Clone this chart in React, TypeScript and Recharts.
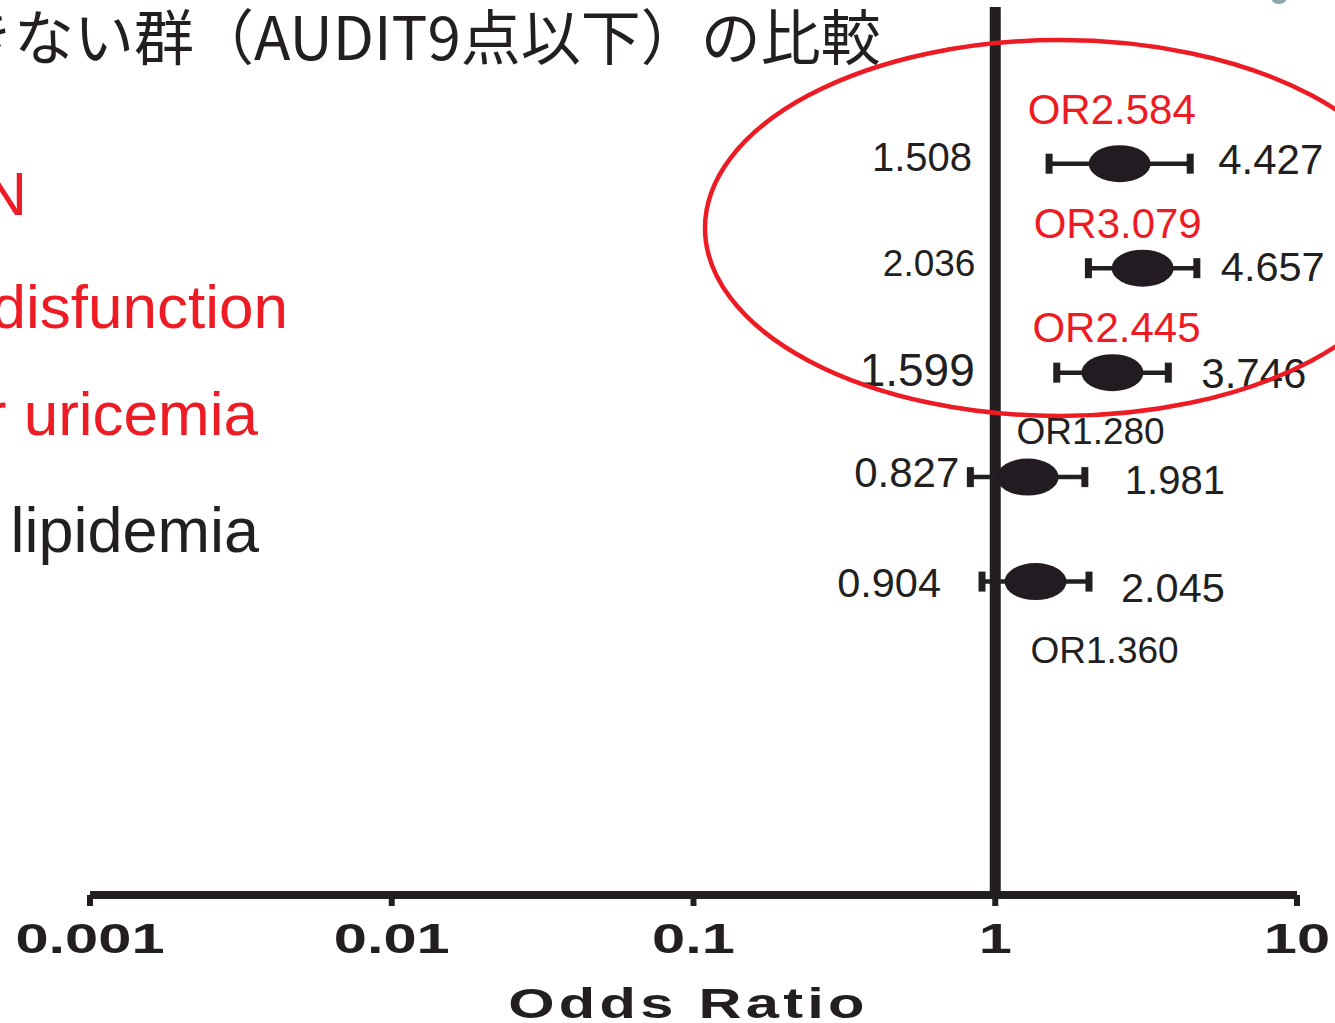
import React from 'react';
import { ScatterChart, Scatter, XAxis, YAxis, ReferenceLine, ErrorBar } from 'recharts';

// ---- data ----
const rowPositions = [5, 4, 3, 2, 1];
const oddsRatios = [2.584, 3.079, 2.445, 1.28, 1.36];
const lowerCI = [1.508, 2.036, 1.599, 0.827, 0.904];
const upperCI = [4.427, 4.657, 3.746, 1.981, 2.045];
const xTicks = [0.001, 0.01, 0.1, 1, 10];
const sideLabels = ['HTN', 'Liver disfunction', 'Hyper uricemia', 'Hyper lipidemia'];
const sideLabelHighlighted = [true, true, true, false];
const titleText = 'できない群（AUDIT9点以下）の比較';
const axisTitle = 'Odds Ratio';

// ---- styling ----
const INK = '#231f20';
const RED = '#ed1c24';
const NUM_FONT = '"Liberation Sans", Arial, Helvetica, sans-serif';

const OR_LABEL = [
  { dx: -92, dy: -40, size: 42, color: RED },
  { dx: -109, dy: -30, size: 42, color: RED },
  { dx: -80, dy: -31, size: 42, color: RED },
  { dx: -11, dy: -33, size: 37, color: INK },
  { dx: -5, dy: 81, size: 37, color: INK },
];
const LO_LABEL = [
  { gap: 77, dy: 7, size: 40 },
  { gap: 113, dy: 8, size: 37 },
  { gap: 82, dy: 13, size: 46 },
  { gap: 11, dy: 10, size: 42 },
  { gap: 41, dy: 15, size: 41.5 },
];
const HI_LABEL = [
  { gap: 28, dy: 10, size: 42 },
  { gap: 24, dy: 13, size: 41.5 },
  { gap: 33, dy: 15, size: 42 },
  { gap: 40, dy: 17, size: 40 },
  { gap: 32, dy: 20, size: 41.5 },
];
const SIDE_LABEL_POS = [
  { x: 27, y: 215, size: 62 },
  { x: 288, y: 328, size: 62 },
  { x: 258, y: 435, size: 62 },
  { x: 259, y: 552, size: 63 },
];

const rows = oddsRatios.map((or, i) => ({
  i,
  x: or,
  y: rowPositions[i],
  err: [or - lowerCI[i], upperCI[i] - or],
}));
const lowerPts = lowerCI.map((v, i) => ({ i, x: v, y: rowPositions[i] }));
const upperPts = upperCI.map((v, i) => ({ i, x: v, y: rowPositions[i] }));

const fmt = (v: number) => v.toFixed(3);

const OddsMark = (p: any) => {
  const { cx, cy, payload } = p;
  const s = OR_LABEL[payload.i];
  return (
    <g>
      <ellipse cx={cx} cy={cy} rx={31} ry={18.5} fill={INK} filter="url(#soften)" />
      <text x={cx + s.dx} y={cy + s.dy} fontSize={s.size} fill={s.color} fontFamily={NUM_FONT}>
        {`OR${fmt(payload.x)}`}
      </text>
    </g>
  );
};

const LowerCap = (p: any) => {
  const { cx, cy, payload } = p;
  const s = LO_LABEL[payload.i];
  return (
    <g>
      <rect x={cx - 3.5} y={cy - 10} width={7} height={20} fill={INK} />
      <text x={cx - s.gap} y={cy + s.dy} fontSize={s.size} fill={INK} textAnchor="end" fontFamily={NUM_FONT}>
        {fmt(payload.x)}
      </text>
    </g>
  );
};

const UpperCap = (p: any) => {
  const { cx, cy, payload } = p;
  const s = HI_LABEL[payload.i];
  return (
    <g>
      <rect x={cx - 3.5} y={cy - 10} width={7} height={20} fill={INK} />
      <text x={cx + s.gap} y={cy + s.dy} fontSize={s.size} fill={INK} fontFamily={NUM_FONT}>
        {fmt(payload.x)}
      </text>
    </g>
  );
};

const OddsTick = (p: any) => {
  const { x, y, payload } = p;
  return (
    <text
      transform={`translate(${x} ${y + 45}) scale(1.42 1)`}
      textAnchor="middle"
      fontFamily={NUM_FONT}
      fontWeight="bold"
      fontSize={42}
      fill={INK}
    >
      {String(payload.value)}
    </text>
  );
};

const AxisTitle = (p: any) => {
  const vb = p.viewBox || { x: 90, y: 895, width: 1207 };
  const cx = vb.x + vb.width / 2 - 5;
  return (
    <text
      transform={`translate(${cx} ${vb.y + 123}) scale(1.42 1)`}
      textAnchor="middle"
      fontFamily={NUM_FONT}
      fontWeight="bold"
      fontSize={42}
      letterSpacing={3}
      fill={INK}
    >
      {axisTitle}
    </text>
  );
};

export default function App() {
  return (
    <div style={{ position: 'absolute', left: 0, top: 0, width: 1335, height: 1023, background: '#fff', overflow: 'hidden' }}>
      <ScatterChart width={1335} height={1023} margin={{ top: 7, right: 38, bottom: 98, left: 90 }}>
        <XAxis
          type="number"
          dataKey="x"
          scale="log"
          domain={[0.001, 10]}
          ticks={xTicks}
          interval={0}
          height={30}
          axisLine={{ stroke: INK, strokeWidth: 8 }}
          tickLine={{ stroke: INK, strokeWidth: 6 }}
          tickSize={11}
          tick={<OddsTick />}
          label={{ content: <AxisTitle /> }}
        />
        <YAxis type="number" dataKey="y" domain={[-2, 6.5]} hide />
        <ReferenceLine x={1} stroke={INK} strokeWidth={11} ifOverflow="extendDomain" />
        <Scatter data={lowerPts} shape={LowerCap} isAnimationActive={false} />
        <Scatter data={upperPts} shape={UpperCap} isAnimationActive={false} />
        <Scatter data={rows} shape={OddsMark} isAnimationActive={false}>
          <ErrorBar dataKey="err" direction="x" width={0} strokeWidth={4.5} stroke={INK} isAnimationActive={false} />
        </Scatter>
      </ScatterChart>

      <svg
        width={1335}
        height={1023}
        style={{ position: 'absolute', left: 0, top: 0, pointerEvents: 'none' }}
      >
        <defs>
          <filter id="soften" x="-20%" y="-20%" width="140%" height="140%">
            <feGaussianBlur stdDeviation={0.7} />
          </filter>
        </defs>
        <text x={-106} y={60} fontSize={60} fill={INK} fontFamily='"Noto Sans CJK JP", sans-serif'>
          {titleText}
        </text>
        {sideLabels.map((t, i) => (
          <text
            key={t}
            x={SIDE_LABEL_POS[i].x}
            y={SIDE_LABEL_POS[i].y}
            fontSize={SIDE_LABEL_POS[i].size}
            textAnchor="end"
            fill={sideLabelHighlighted[i] ? RED : INK}
            fontFamily={NUM_FONT}
          >
            {t}
          </text>
        ))}
        <ellipse cx={1060} cy={228} rx={355} ry={188} fill="none" stroke={RED} strokeWidth={4.5} />
        <ellipse cx={1279} cy={0} rx={7} ry={4} fill="#8fa9aa" />
      </svg>
    </div>
  );
}
